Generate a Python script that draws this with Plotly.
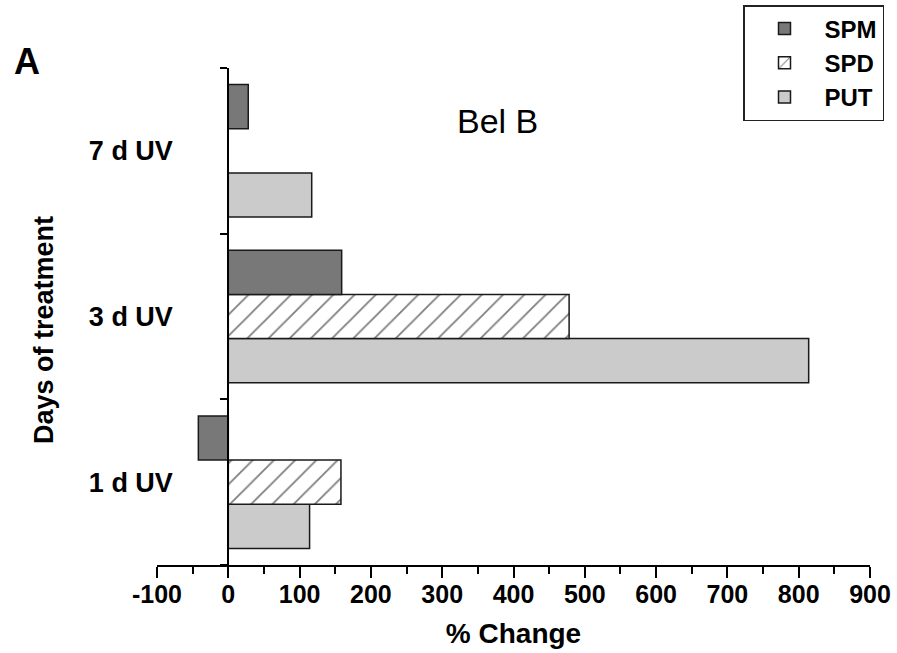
import plotly.graph_objects as go

categories = ["1 d UV", "3 d UV", "7 d UV"]
spm = [-42, 159, 28]
spd = [158, 478, None]
put = [114, 814, 117]
x_ticks = [-100, 0, 100, 200, 300, 400, 500, 600, 700, 800, 900]
x_tick_labels = ["-100", "0", "100", "200", "300", "400", "500", "600", "700", "800", "900"]

FONT = "Liberation Sans, Arial, sans-serif"
W, H = 897, 653
L, R, T, B = 157, 27, 68, 88

def px(xp):
    return (xp - L) / (W - L - R)

def py(yp):
    return (H - B - yp) / (H - T - B)

fig = go.Figure()
line = dict(color="#1a1a1a", width=1.5)
fig.add_trace(go.Bar(name="PUT", y=categories, x=put, orientation="h",
                     marker=dict(color="#cbcbcb", line=line)))
fig.add_trace(go.Bar(name="SPD", y=categories, x=spd, orientation="h",
                     marker=dict(color="white", line=line,
                                 pattern=dict(shape="/", fgcolor="#000", bgcolor="white",
                                              size=15, solidity=0.12))))
fig.add_trace(go.Bar(name="SPM", y=categories, x=spm, orientation="h",
                     marker=dict(color="#787878", line=line)))

fig.update_layout(
    width=W, height=H,
    margin=dict(l=L, r=R, t=T, b=B, autoexpand=False),
    paper_bgcolor="white", plot_bgcolor="white",
    barmode="group", bargap=0.2, bargroupgap=0,
    font=dict(family=FONT, color="black"),
    showlegend=True,
    legend=dict(x=px(884), y=py(5), xanchor="right", yanchor="top",
                traceorder="reversed", bordercolor="#222", borderwidth=1.5,
                bgcolor="white", font=dict(size=24, weight="bold", family=FONT),
                itemwidth=70),
    xaxis=dict(range=[-100, 900], tickvals=x_ticks, ticktext=x_tick_labels,
               showline=True, linewidth=2,
               linecolor="black", ticks="outside", ticklen=11, tickwidth=2,
               tickcolor="black", showgrid=False, zeroline=False,
               minor=dict(dtick=50, tick0=-100, ticks="outside", ticklen=7,
                          tickwidth=2, tickcolor="black", showgrid=False),
               ticklabelstandoff=-5,
               tickfont=dict(size=25, weight="bold", family=FONT),
               title=dict(text="% Change", font=dict(size=28, weight="bold", family=FONT),
                          standoff=16)),
    yaxis=dict(type="category", categoryorder="array", categoryarray=categories,
               range=[-0.5, 2.5], anchor="free", position=0.1, showline=True,
               linewidth=2, linecolor="black", ticks="outside", tickson="boundaries",
               ticklen=7, tickwidth=2, tickcolor="black", showgrid=False,
               zeroline=False, ticklabelstandoff=49,
               tickfont=dict(size=27, weight="bold", family=FONT)),
    yaxis2=dict(overlaying="y", anchor="free", position=0.1, range=[-0.5, 2.5],
                tickvals=[-0.5, 0.5, 1.5, 2.5], ticks="inside", ticklen=7,
                tickwidth=2, tickcolor="black", showticklabels=False,
                showgrid=False, zeroline=False, showline=False),
)

fig.add_annotation(text="Days of treatment", textangle=-90, xref="paper", yref="paper",
                   x=px(44), y=py(330), xanchor="center", yanchor="middle",
                   showarrow=False, font=dict(size=27, weight="bold", family=FONT))
fig.add_annotation(text="A", xref="paper", yref="paper", x=px(27), y=py(62),
                   xanchor="center", yanchor="middle",
                   showarrow=False, font=dict(size=36, weight="bold", family=FONT))
fig.add_annotation(text="Bel B", xref="paper", yref="paper", x=px(497), y=py(121),
                   xanchor="center", yanchor="middle",
                   showarrow=False, font=dict(size=34, family=FONT))

fig.write_html("out.html", config={"displayModeBar": False},
               post_script="document.body.style.margin='0';")
